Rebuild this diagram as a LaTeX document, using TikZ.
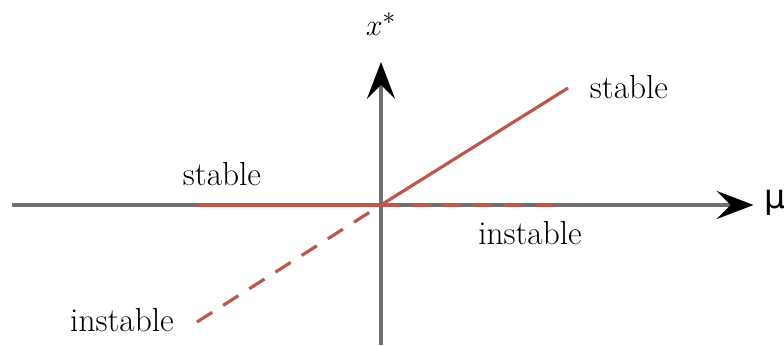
\documentclass[tikz,border=0pt]{standalone}
\usepackage{fontspec}
\newfontfamily\mufont{DejaVu Sans}
\usetikzlibrary{arrows.meta}
\definecolor{branch}{RGB}{190,86,74}
\definecolor{axisgray}{RGB}{112,112,112}
\tikzset{
  axis/.style={draw=axisgray,line width=1.9pt},
  branchline/.style={draw=branch,line width=1.8pt},
  unstable/.style={branchline,dash pattern=on 0.36cm off 0.26cm},
  lbl/.style={font=\fontsize{19}{23}\selectfont}
}
\begin{document}
\begin{tikzpicture}[>={Stealth[length=21pt,width=16pt,inset=8pt,black]}]
\useasboundingbox (-7.62,-2.8) rectangle (8.06,4.1);
\coordinate (O) at (0,0);
\coordinate (xl) at (-7.38,0);
\coordinate (xr) at (7.45,0);
\coordinate (yb) at (0,-2.8);
\coordinate (yt) at (0,2.86);
\draw[axis,->](xl)--(xr);
\draw[axis,->](yb)--(yt);
\node[lbl] (xs) at (0,3.62){$x^*$};
\node[lbl,anchor=west,inner sep=1pt] (mu) at (7.62,0.05){\mufont μ};
% branches
\coordinate (hl) at (-3.68,0);
\coordinate (hr) at (3.74,0);
\coordinate (dt) at (3.74,2.34);
\coordinate (db) at (-3.68,-2.34);
\draw[branchline](hl)--(O);
\draw[unstable](O)--(hr);
\draw[branchline](O)--(dt);
\draw[unstable](db)--(O);
\node[lbl] (s1) at (-3.18,0.62){stable};
\node[lbl] (s2) at (4.96,2.36){stable};
\node[lbl] (i1) at (2.98,-0.56){instable};
\node[lbl] (i2) at (-5.18,-2.3){instable};
\end{tikzpicture}
\end{document}
